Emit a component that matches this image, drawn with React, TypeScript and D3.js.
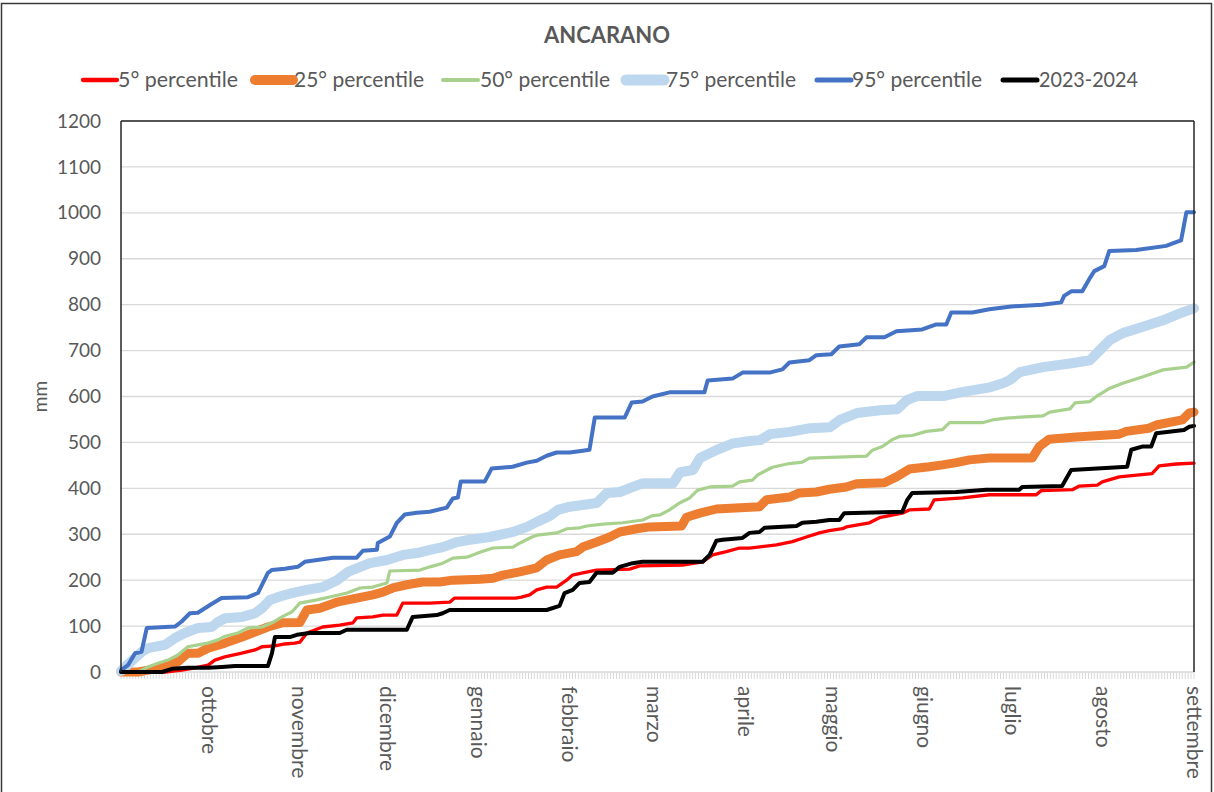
import React from 'react';
import * as d3 from 'd3';

type Pt = [number, number];

const TITLE = 'ANCARANO';
const Y_LABEL = 'mm';
const Y_TICKS = [0, 100, 200, 300, 400, 500, 600, 700, 800, 900, 1000, 1100, 1200];
const MONTHS = ['ottobre', 'novembre', 'dicembre', 'gennaio', 'febbraio', 'marzo', 'aprile', 'maggio', 'giugno', 'luglio', 'agosto', 'settembre'];
const MONTH_START_DAYS = [30, 61, 91, 122, 153, 182, 213, 243, 274, 304, 335, 366];
const N_DAYS = 366;

const SERIES_NAMES = ['5° percentile', '25° percentile', '50° percentile', '75° percentile', '95° percentile', '2023-2024'];

// [day since 1 Sept, cumulative mm]
const P5: Pt[] = [[0,0],[15,0],[20.8,4],[25.2,9],[29.7,15],[32,26],[35.4,33],[41.2,41],[45.7,48],[48.1,55],[52.5,57],[55.9,61],[59.3,63],[61,65],[63.4,85],[68.8,98],[74.6,102],[79.1,107],[80.4,118],[85.9,120],[89.3,124],[94.1,124],[96.1,150],[105.3,150],[112.1,152],[113.8,161],[134.6,161],[136.6,163],[139.4,168],[141.8,179],[145.2,185],[148.6,185],[152,200],[154,211],[157.5,216],[162.2,222],[173.5,224],[176.9,231],[191.5,233],[198.4,240],[201.8,255],[206.5,262],[211,270],[214.4,270],[223.6,277],[229,284],[233.8,294],[238.2,303],[241.6,308],[246.1,312],[247.4,316],[255.3,325],[258.7,336],[266.5,346],[268.9,353],[275.7,355],[277.4,375],[287,379],[296.2,386],[312.2,386],[313.9,395],[324.5,397],[326.9,405],[333,407],[334.7,414],[340.5,425],[351.7,432],[354.1,449],[359.9,453],[366,455]];

const P25: Pt[] = [[0,0],[6,0],[9.2,4],[16,15],[19.4,22],[22.8,41],[26.3,41],[29.7,52],[35.5,63],[41.3,76],[45.7,87],[50.1,98],[54.9,107],[61,108],[63.4,135],[67.8,139],[73.6,152],[80.4,161],[85.9,168],[89.3,174],[92.7,183],[97.5,190],[102.9,196],[108.7,196],[113.2,200],[122.4,202],[126.9,204],[130.2,211],[136,218],[141.8,227],[145.2,244],[149.6,255],[155.4,262],[157.5,272],[162.3,283],[166.7,294],[170.1,305],[175.9,312],[180.3,316],[191.2,318],[192.9,337],[197.4,346],[203.1,355],[217.8,360],[220.2,375],[228,381],[231.4,390],[237.2,392],[241.6,398],[247.4,403],[250.9,410],[260.4,412],[264.5,425],[268.9,442],[275.7,447],[280.2,451],[284.9,456],[289.4,462],[296.2,466],[310.8,466],[313.2,491],[316.6,507],[325.8,512],[340.5,518],[342.9,524],[350.7,531],[353.1,538],[362,549],[364.4,564],[366,566]];

const P50: Pt[] = [[0,0],[6,0],[9.2,11],[12.6,19],[16,26],[19.4,37],[22.8,55],[26.3,59],[29.7,63],[33.1,70],[35.5,78],[39.9,85],[43.3,96],[48.1,98],[51.5,107],[54.9,120],[58.3,131],[61,150],[66.8,157],[72.3,165],[77.1,172],[81.5,183],[85.9,185],[90.7,194],[91.7,220],[102,222],[105.4,229],[109.8,237],[113.2,248],[118,250],[122.4,261],[126.9,270],[133.7,272],[136.1,281],[140.2,294],[141.9,298],[148.7,303],[152.1,312],[156.5,314],[158.9,318],[164.4,322],[171.2,325],[178,331],[181,340],[183.8,342],[187.1,353],[190.5,368],[194,379],[196.7,396],[200.8,403],[208.6,405],[211,414],[215.4,418],[217.1,429],[222.2,446],[228,454],[232.4,457],[234.8,466],[254.3,470],[256.3,483],[259.7,491],[263.1,506],[265.5,513],[269.9,515],[274.7,524],[280.2,528],[282.6,543],[293.8,543],[297.2,549],[302,553],[314.5,558],[316.8,566],[323.7,573],[325.4,586],[330.5,589],[332.9,601],[337.3,618],[341.7,629],[348.6,643],[355.4,658],[363.5,664],[366,675]];

const P75: Pt[] = [[0,2],[1.4,11],[7.1,44],[9.2,52],[15,59],[18.4,74],[21.8,85],[26.3,96],[31,98],[33.1,109],[35.5,117],[41.3,120],[45.7,128],[48.1,139],[50.8,157],[53.5,163],[58.3,172],[63.4,179],[68.9,185],[73.7,200],[77.4,218],[84.9,237],[90.7,244],[96.2,255],[101,259],[105.4,266],[109.8,272],[114.6,283],[119,288],[125.8,294],[133.7,305],[138.5,316],[141.9,327],[146.3,340],[149,353],[153.1,360],[162.3,368],[165.8,390],[170.2,392],[174.6,403],[178,411],[188.3,411],[190.7,435],[195.1,440],[197.5,466],[203.3,484],[208.7,498],[214.5,503],[218,505],[221.4,518],[228.2,523],[235,531],[241.8,533],[245.2,549],[251,564],[258.9,570],[264.7,572],[268.1,592],[271.5,601],[280.4,601],[287.2,610],[296.4,620],[300.8,629],[303.2,636],[306.6,653],[314.5,664],[323.7,672],[330.5,679],[333.9,701],[337.3,723],[341.7,738],[348.6,752],[355.4,766],[361.2,781],[366,792]];

const P95: Pt[] = [[0,4],[2.4,15],[4.8,41],[7,44],[8.8,96],[18.4,99],[20.7,110],[23.5,128],[26.2,129],[30.9,148],[34.3,161],[43.3,163],[46.7,172],[50.1,216],[51.4,222],[55.9,225],[60.3,229],[62.7,240],[72.3,249],[80.4,249],[82.5,264],[87.3,266],[87.6,281],[91.7,295],[94.1,325],[96.8,343],[100.9,347],[105.3,349],[111.1,358],[113.2,378],[114.9,380],[115.9,415],[124.1,415],[126.4,443],[133.6,447],[138.4,456],[141.8,460],[145.2,471],[148.6,478],[153,478],[157.5,482],[159.8,484],[161.6,554],[171.8,554],[174.2,587],[177.9,589],[181.3,600],[187.1,609],[199,609],[200.1,635],[208.6,639],[212,652],[221.2,652],[225.6,659],[228,674],[234.8,679],[237.2,690],[242.3,692],[245,709],[251.9,714],[254.3,729],[260.4,729],[264.5,742],[273.3,746],[278.1,757],[281.5,757],[283.2,783],[290.4,783],[296.2,790],[303.7,796],[314.2,800],[320.7,805],[321.7,819],[324.1,829],[327.9,829],[330.2,855],[332,873],[335.4,884],[337.1,917],[346.3,919],[356.5,928],[359.9,936],[361.6,940],[363.4,1001],[366,1001]];

const Y2324: Pt[] = [[0,0],[14,0],[17.4,7],[22.8,9],[29.7,9],[34.4,11],[38.9,13],[50.1,13],[51.5,41],[52.5,76],[57.6,76],[60,81],[64.4,85],[74.6,85],[77,92],[97.5,92],[99.5,120],[107.7,124],[109.7,128],[112.1,135],[145.2,135],[149.6,144],[151.3,172],[154.1,179],[156.4,194],[159.8,196],[162.2,216],[167.7,216],[170.1,229],[174.5,237],[177.9,240],[198.4,240],[200.8,255],[203.1,286],[205.2,288],[212,292],[214.4,303],[217.8,305],[219.5,314],[230.4,318],[232.4,325],[237.2,327],[241.6,331],[245,331],[246.7,346],[266.5,349],[268.2,375],[269.9,390],[284.9,392],[295.2,397],[306.4,397],[307.4,403],[321,405],[324.1,440],[343.2,447],[344.6,484],[348.3,491],[351.4,491],[353.1,520],[362.6,527],[364.4,534],[366,536]];

const SERIES_DATA: Pt[][] = [P5, P25, P50, P75, P95, Y2324];
const SERIES_COLORS = ['#FF0000', '#ED7D31', '#A9D18E', '#BDD7EE', '#4472C4', '#000000'];
const SERIES_WIDTHS = [3.3, 9, 3.2, 10, 4, 4];

// legend layout (pixel positions)
const LEGEND_SAMPLE_X = [83, 255, 443, 626, 817, 1003];
const LEGEND_SAMPLE_W = [34, 38, 35, 38, 34, 34];
const LEGEND_TEXT_X = [118, 294, 480, 666, 852, 1039];
const LEGEND_TEXT_W = [120, 130, 130, 130, 130, 99];

const FONT = 'Lato, "Open Sans", sans-serif';
const TXT = '#595959';

export default function App() {
  const left = 121, right = 1194, top = 121, bottom = 672;
  const x = d3.scaleLinear().domain([0, N_DAYS]).range([left, right]);
  const y = d3.scaleLinear().domain([0, 1200]).range([bottom, top]);
  const line = d3.line<Pt>().x(d => x(d[0])).y(d => y(d[1]));
  const dayTicks = d3.range(0, N_DAYS + 1);

  return (
    <svg width={1214} height={792} style={{ position: 'absolute', left: 0, top: 0, background: '#fff' }} fontFamily={FONT}>
      <rect x={0} y={0} width={1214} height={792} fill="#fff" />
      <rect x={1.5} y={3.5} width={1210} height={800} fill="none" stroke="#3a3a3a" strokeWidth={1.5} />
      <text x={607} y={43} textAnchor="middle" fontWeight="bold" fontSize={23} fill={TXT} textLength={126} lengthAdjust="spacingAndGlyphs">{TITLE}</text>

      {SERIES_NAMES.map((n, i) => (
        <g key={n}>
          <line x1={LEGEND_SAMPLE_X[i]} x2={LEGEND_SAMPLE_X[i] + LEGEND_SAMPLE_W[i]} y1={80} y2={80}
            stroke={SERIES_COLORS[i]} strokeWidth={SERIES_WIDTHS[i] + 1} strokeLinecap="round" />
          <text x={LEGEND_TEXT_X[i]} y={80} dy="0.35em" fontSize={21} fill={TXT} textLength={LEGEND_TEXT_W[i]} lengthAdjust="spacingAndGlyphs">{n}</text>
        </g>
      ))}

      {Y_TICKS.filter(t => t > 0).map(t => (
        <line key={t} x1={left} x2={right} y1={y(t)} y2={y(t)} stroke="#d9d9d9" strokeWidth={1.3} />
      ))}
      {dayTicks.map(d => (
        <line key={d} x1={x(d)} x2={x(d)} y1={bottom} y2={bottom + 7} stroke="#d9d9d9" strokeWidth={1} />
      ))}
      <line x1={left} x2={right} y1={bottom} y2={bottom} stroke="#d9d9d9" strokeWidth={1.3} />

      {Y_TICKS.map(t => (
        <text key={t} x={101} y={y(t)} dy="0.35em" textAnchor="end" fontSize={19} fill={TXT}>{t}</text>
      ))}
      <text transform={`translate(40,${(top + bottom) / 2}) rotate(-90)`} textAnchor="middle" dy="0.35em" fontSize={19} fill={TXT}>{Y_LABEL}</text>

      {MONTHS.map((m, i) => (
        <text key={m} transform={`translate(${x(MONTH_START_DAYS[i])},686) rotate(90)`} dy="0.35em" fontSize={21} fill={TXT}>{m}</text>
      ))}

      {SERIES_DATA.map((data, i) => (
        <path key={i} d={line(data) || ''} fill="none" stroke={SERIES_COLORS[i]} strokeWidth={SERIES_WIDTHS[i]}
          strokeLinejoin="round" strokeLinecap="round" />
      ))}

      <line x1={left} x2={left} y1={top} y2={bottom} stroke="#262626" strokeWidth={1.5} />
      <line x1={left} x2={right} y1={top} y2={top} stroke="#262626" strokeWidth={1.5} />
      <line x1={right} x2={right} y1={top} y2={bottom} stroke="#262626" strokeWidth={1.5} />
    </svg>
  );
}
